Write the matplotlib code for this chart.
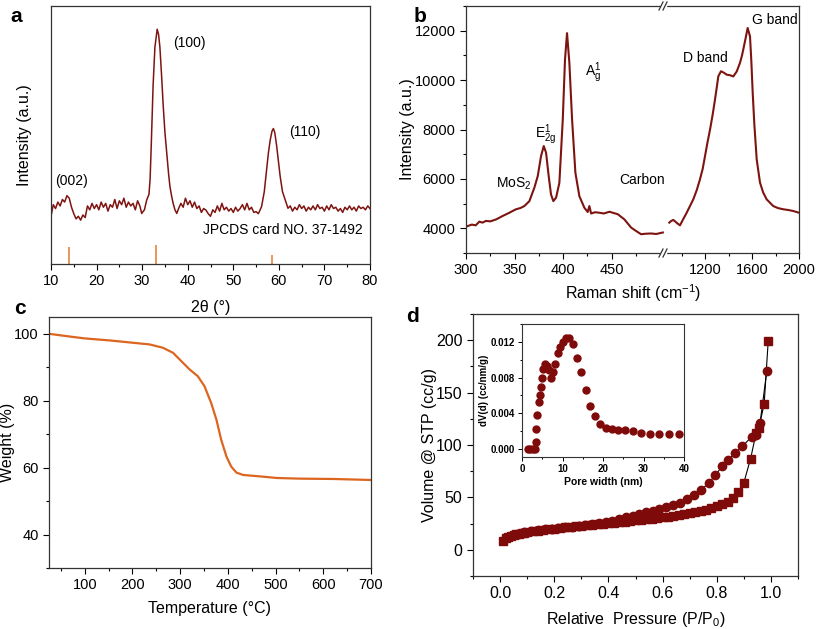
import matplotlib
matplotlib.use("Agg")
import matplotlib.pyplot as plt
from matplotlib.ticker import MultipleLocator, FixedLocator, FormatStrFormatter

plt.rcParams['font.family'] = ['Liberation Sans', 'DejaVu Sans']
plt.rcParams['mathtext.fontset'] = 'custom'
plt.rcParams['mathtext.rm'] = 'Liberation Sans'
plt.rcParams['mathtext.it'] = 'Liberation Sans'

# ---------------- data ----------------
# (a) XRD
xrd_2theta = [10.0, 10.5, 11.0, 11.5, 12.0, 12.5, 13.0, 13.5, 14.0, 14.5, 15.0, 15.5, 16.0, 16.5, 17.0, 17.5,
              18.0, 18.5, 19.0, 19.5, 20.0, 20.5, 21.0, 21.5, 22.0, 22.5, 23.0, 23.5, 24.0, 24.5, 25.0, 25.5,
              26.0, 26.5, 27.0, 27.5, 28.0, 28.5, 29.0, 29.5, 29.9, 30.5, 31.0, 31.5, 31.75, 32.0, 32.4, 32.8,
              33.3, 33.6, 33.9, 34.3, 34.6, 35.0, 35.4, 35.8, 36.1, 36.5, 36.8, 37.2, 37.6, 38.0, 38.5, 39.0,
              39.5, 40.0, 40.5, 41.0, 41.5, 42.0, 42.5, 43.0, 43.5, 44.0, 44.5, 45.0, 45.5, 46.0, 46.5, 47.0,
              47.5, 48.0, 48.5, 49.0, 49.5, 50.0, 50.5, 51.0, 51.5, 52.0, 52.5, 53.0, 53.5, 54.0, 54.5, 55.0,
              55.5, 56.2, 56.8, 57.3, 57.7, 58.1, 58.5, 58.8, 59.1, 59.5, 59.9, 60.3, 60.8, 61.4, 62.0, 62.5,
              63.0, 63.5, 64.0, 64.5, 65.0, 65.5, 66.0, 66.5, 67.0, 67.5, 68.0, 68.5, 69.0, 69.5, 70.0, 70.5,
              71.0, 71.5, 72.0, 72.5, 73.0, 73.5, 74.0, 74.5, 75.0, 75.5, 76.0, 76.5, 77.0, 77.5, 78.0, 78.5,
              79.0, 79.5, 80.0]
xrd_intensity = [18.5, 23.0, 21.5, 24.0, 22.5, 25.0, 24.0, 26.5, 25.5, 22.0, 19.5, 17.5, 18.5, 17.0, 19.0, 18.0,
                 22.5, 21.0, 23.5, 21.5, 23.0, 21.0, 24.0, 22.0, 23.5, 20.5, 23.0, 22.0, 25.0, 21.5, 24.5, 23.0,
                 25.5, 22.0, 24.0, 22.5, 23.5, 21.0, 24.5, 22.5, 19.6, 21.0, 24.8, 27.0, 33.0, 46.0, 69.0, 84.0,
                 91.0, 89.0, 84.0, 72.0, 62.0, 51.0, 43.0, 35.0, 30.0, 26.0, 23.5, 21.0, 19.6, 21.5, 23.5, 22.0,
                 25.5, 23.0, 24.5, 22.0, 24.0, 21.5, 22.5, 20.0, 21.5, 20.9, 19.5, 18.5, 21.0, 20.0, 22.5, 20.5,
                 23.5, 21.0, 22.0, 20.5, 21.5, 20.0, 22.0, 20.5, 21.5, 23.0, 21.0, 23.5, 21.0, 22.0, 20.0, 20.3,
                 19.5, 22.2, 28.0, 36.4, 43.0, 48.0, 51.5, 52.5, 51.0, 46.0, 40.0, 33.8, 28.0, 24.8, 21.6, 22.5,
                 20.5, 22.0, 21.0, 23.0, 21.5, 22.5, 20.5, 22.0, 21.0, 22.5, 21.0, 23.0, 21.5, 22.0, 20.5, 22.5,
                 21.0, 23.0, 21.5, 22.0, 20.5, 21.5, 20.0, 22.0, 21.0, 22.5, 21.0, 22.0, 20.5, 22.5, 21.5, 22.0,
                 21.0, 22.5, 21.5]
ref_2theta = [14.0, 33.0, 58.5]
ref_height = [6.6, 7.4, 3.5]

# (b) Raman
raman_low_x = [301.7, 306, 310, 313.7, 317, 320.6, 325, 331, 334, 337.8, 341, 344.7, 348, 351.5, 356, 360.1,
               365.3, 370.4, 373.9, 377.3, 380.1, 382.5, 385.2, 387.6, 390.0, 392.8, 396.2, 399.7, 402.0,
               404.1, 406.5, 409.3, 412.7, 416.8, 422.0, 425.4, 427.1, 428.9, 433, 437.4, 442, 447.8, 452,
               456.4, 463.2, 470.1, 475.3, 480.4, 485, 490.7, 496, 502.8]
raman_low_y = [4090, 4150, 4120, 4270, 4230, 4300, 4280, 4360, 4420, 4500, 4560, 4630, 4700, 4770, 4820, 4900,
               5100, 5640, 6110, 6920, 7330, 7060, 6110, 5370, 5100, 5240, 5840, 8400, 10830,
               11900, 10700, 8400, 6250, 5300, 4830, 4660, 4900, 4600, 4650, 4630, 4600, 4670, 4620,
               4570, 4360, 4030, 3890, 3760, 3780, 3790, 3770, 3830]
raman_high_x = [896, 910, 930, 950, 970, 987, 1010, 1044, 1070, 1100, 1130, 1157, 1180, 1200, 1220, 1243,
                1265, 1285, 1300, 1313, 1336, 1360, 1385, 1410, 1441, 1470, 1498, 1515, 1532, 1548, 1563,
                1583, 1594, 1606, 1620, 1640, 1668, 1695, 1725, 1781, 1820, 1866, 1910, 1951, 2000]
raman_high_y = [4230, 4290, 4340, 4260, 4180, 4120, 4330, 4630, 4880, 5170, 5550, 5980, 6400, 6920, 7450, 8000,
                8600, 9210, 9700, 10150, 10360, 10300, 10220, 10200, 10150, 10350, 10700, 11000, 11380,
                11750, 12110, 11770, 10800, 9480, 8200, 6790, 5850, 5450, 5170, 4900, 4820, 4770, 4740,
                4700, 4630]

# (c) TGA
tga_temp = [24, 61, 100, 152, 201, 236, 264, 285, 306, 320, 337, 351, 365, 376, 386, 397, 407, 418, 432,
            473, 502, 551, 621, 700]
tga_weight = [100.0, 99.3, 98.6, 98.0, 97.3, 96.8, 95.8, 94.3, 91.3, 89.3, 87.3, 84.3, 79.3, 74.3, 68.3,
              63.3, 60.3, 58.5, 57.8, 57.3, 56.9, 56.7, 56.6, 56.3]

# (d) N2 isotherm
ads_p = [0.009, 0.02, 0.03, 0.04, 0.05, 0.06, 0.07, 0.08, 0.09, 0.10, 0.12, 0.14, 0.16, 0.18, 0.20, 0.22,
         0.24, 0.26, 0.28, 0.30, 0.32, 0.34, 0.36, 0.38, 0.40, 0.42, 0.44, 0.46, 0.48, 0.50, 0.52, 0.54,
         0.56, 0.58, 0.60, 0.62, 0.64, 0.66, 0.68, 0.70, 0.72, 0.74, 0.76, 0.78, 0.80, 0.82, 0.84, 0.86,
         0.88, 0.90, 0.925, 0.945, 0.955, 0.975, 0.99]
ads_v = [8.6, 11.0, 12.3, 13.2, 14.0, 14.7, 15.3, 15.8, 16.3, 16.8, 17.6, 18.3, 19.0, 19.6, 20.2, 20.8,
         21.3, 21.9, 22.4, 22.9, 23.4, 23.9, 24.4, 24.9, 25.4, 25.9, 26.4, 26.9, 27.4, 28.0, 28.6, 29.2,
         29.8, 30.4, 31.0, 31.7, 32.4, 33.2, 34.0, 34.9, 35.9, 37.0, 38.3, 39.8, 41.5, 43.5, 46.0, 49.5,
         55.0, 64.0, 87.0, 111.0, 116.0, 139.0, 199.0]
des_p = [0.985, 0.96, 0.945, 0.93, 0.895, 0.868, 0.842, 0.821, 0.794, 0.77, 0.741, 0.717, 0.69, 0.664,
         0.638, 0.612, 0.587, 0.563, 0.538, 0.513, 0.489, 0.464, 0.44, 0.415, 0.39, 0.365, 0.34, 0.315,
         0.29, 0.265, 0.24, 0.215, 0.19, 0.165, 0.14, 0.115, 0.09, 0.065, 0.04, 0.02]
des_v = [171, 121, 110, 108, 99, 92, 86, 80, 71, 63.5, 57, 52, 48, 45, 43, 41, 39, 37.3, 35.7, 34, 32.5,
         31, 29.3, 27.5, 26.3, 25.3, 24.5, 23.5, 22.8, 22.2, 21.6, 21.0, 20.2, 19.4, 18.6, 17.6, 16.6,
         15.3, 13.5, 11.5]

# inset: pore size distribution
pore_w = [1.5, 2.0, 2.7, 3.3, 3.4, 3.5, 3.8, 4.1, 4.4, 4.8, 5.0, 5.3, 5.7, 6.1, 6.6, 7.1, 7.6, 8.2, 8.9,
          9.4, 10.1, 10.8, 11.6, 12.7, 13.5, 14.6, 15.7, 16.9, 18.0, 19.3, 20.7, 22.1, 23.8, 25.4, 27.5,
          29.5, 31.6, 33.8, 36.2, 38.8]
pore_dv = [0.0, 0.0, 0.0, 0.0, 0.0008, 0.0022, 0.0038, 0.0053, 0.0061, 0.0069, 0.0080, 0.0090, 0.0095,
           0.0093, 0.0088, 0.0080, 0.0086, 0.0095, 0.0107, 0.0114, 0.0120, 0.0124, 0.0124, 0.0118,
           0.0102, 0.0086, 0.0066, 0.0048, 0.0037, 0.0028, 0.0023, 0.0022, 0.0021, 0.0021, 0.0020,
           0.0018, 0.0017, 0.0017, 0.0017, 0.0017]

# ---------------- style ----------------
W, H = 817, 629
fig = plt.figure(figsize=(W / 100, H / 100), dpi=100)

def box(l, t, r, b):
    return [l / W, 1 - b / H, (r - l) / W, (b - t) / H]

dark_red = '#7e1410'
orange = '#dc6520'
tick_fs = 10.5
label_fs = 11.5

def style(ax, fs=tick_fs):
    ax.tick_params(which='both', direction='out', labelsize=fs, width=0.8)
    ax.tick_params(which='major', length=4)
    ax.tick_params(which='minor', length=2.5)
    for s in ax.spines.values():
        s.set_linewidth(0.9)
        s.set_color('#333333')

# ---- (a) XRD ----
axa = fig.add_axes(box(51, 6, 370, 264))
axa.plot(xrd_2theta, xrd_intensity, color=dark_red, lw=1.1)
axa.vlines(ref_2theta, 0, ref_height, color='#e8843c', lw=1.2)
axa.set_xlim(10, 80)
axa.set_ylim(0, 100)
axa.set_yticks([])
axa.xaxis.set_major_locator(MultipleLocator(10))
axa.xaxis.set_minor_locator(MultipleLocator(5))
style(axa)
axa.set_xlabel('2θ (°)', fontsize=label_fs)
axa.xaxis.set_label_coords(0.5, -0.14)
axa.set_ylabel('Intensity (a.u.)', fontsize=label_fs)
axa.yaxis.set_label_coords(-0.06, 0.5)
axa.text(10.8, 30.5, '(002)', fontsize=10)
axa.text(36.8, 84, '(100)', fontsize=10)
axa.text(62.3, 49.5, '(110)', fontsize=10)
axa.text(78.5, 11.5, 'JPCDS card NO. 37-1492', fontsize=10, ha='right')
fig.text(10 / W, 1 - 22 / H, 'a', fontsize=15, fontweight='bold')

# ---- (b) Raman with broken axis ----
brk = 664
axb1 = fig.add_axes(box(466, 6, brk, 253))
axb2 = fig.add_axes(box(brk, 6, 799, 253), sharey=axb1)
axb1.plot(raman_low_x, raman_low_y, color=dark_red, lw=1.5)
axb2.plot(raman_high_x, raman_high_y, color=dark_red, lw=1.5)
axb1.set_xlim(300, 504)
axb2.set_xlim(851, 2000)
axb1.set_ylim(3000, 13000)
axb1.xaxis.set_major_locator(FixedLocator([300, 350, 400, 450]))
axb1.xaxis.set_minor_locator(FixedLocator([325, 375, 425, 475]))
axb2.xaxis.set_major_locator(FixedLocator([1200, 1600, 2000]))
axb2.xaxis.set_minor_locator(FixedLocator([1000, 1400, 1800]))
axb1.yaxis.set_major_locator(MultipleLocator(2000))
axb1.yaxis.set_minor_locator(MultipleLocator(1000))
style(axb1)
style(axb2)
axb1.spines['right'].set_visible(False)
axb2.spines['left'].set_visible(False)
axb2.tick_params(axis='y', which='both', left=False, labelleft=False)
axb1.set_ylabel('Intensity (a.u.)', fontsize=label_fs)
axb1.yaxis.set_label_coords(-0.26, 0.5)
fig.text(633 / W, 1 - 293 / H, 'Raman shift (cm$^{-1}$)', fontsize=label_fs, ha='center', va='center')
# break marks
fig.add_artist(plt.Rectangle(((brk - 3) / W, 1 - 256 / H), 5 / W, 6 / H, color='white', zorder=5))
fig.add_artist(plt.Rectangle(((brk - 3) / W, 1 - 9 / H), 5 / W, 6 / H, color='white', zorder=5))
for yb in (6, 253):
    for dx in (-3, 1):
        fig.add_artist(plt.Line2D([(brk + dx - 2) / W, (brk + dx + 2) / W],
                                  [1 - (yb + 4) / H, 1 - (yb - 4) / H],
                                  color='#333333', lw=0.9, zorder=6))
axb1.text(331, 5650, 'MoS$_2$', fontsize=10)
axb1.text(371, 7650, 'E$^1_{2g}$', fontsize=10)
axb1.text(423, 10150, 'A$^1_g$', fontsize=10)
axb2.text(858, 5800, 'Carbon', fontsize=10, ha='right')
axb2.text(1010, 10750, 'D band', fontsize=10)
axb2.text(1600, 12450, 'G band', fontsize=10, va='center')
fig.text(414 / W, 1 - 22 / H, 'b', fontsize=15, fontweight='bold')

# ---- (c) TGA ----
axc = fig.add_axes(box(49, 317, 371, 568))
axc.plot(tga_temp, tga_weight, color=orange, lw=1.6)
axc.set_xlim(25, 700)
axc.set_ylim(30, 105)
axc.xaxis.set_major_locator(MultipleLocator(100))
axc.xaxis.set_minor_locator(MultipleLocator(50))
axc.yaxis.set_major_locator(FixedLocator([40, 60, 80, 100]))
axc.yaxis.set_minor_locator(FixedLocator([30, 50, 70, 90]))
style(axc)
axc.set_xlabel('Temperature (°C)', fontsize=label_fs)
axc.xaxis.set_label_coords(0.5, -0.131)
axc.set_ylabel('Weight (%)', fontsize=label_fs)
axc.yaxis.set_label_coords(-0.105, 0.5)
fig.text(14 / W, 1 - 314 / H, 'c', fontsize=15, fontweight='bold')

# ---- (d) isotherm ----
axd = fig.add_axes(box(473, 314, 798, 576))
axd.plot(ads_p, ads_v, color='black', lw=0.8, zorder=1)
axd.plot(des_p, des_v, color='black', lw=0.8, zorder=1)
axd.plot(ads_p, ads_v, ls='none', marker='s', ms=5.5, color='#7f0a0a', zorder=2)
axd.plot(des_p, des_v, ls='none', marker='o', ms=6, color='#7f0a0a', zorder=3)
axd.set_xlim(-0.1, 1.1)
axd.set_ylim(-25, 225)
axd.xaxis.set_major_locator(MultipleLocator(0.2))
axd.xaxis.set_minor_locator(MultipleLocator(0.1))
axd.yaxis.set_major_locator(MultipleLocator(50))
axd.yaxis.set_minor_locator(MultipleLocator(25))
style(axd, fs=11.5)
axd.xaxis.set_major_formatter(FormatStrFormatter('%.1f'))
axd.set_xlabel('Relative  Pressure (P/P$_0$)', fontsize=label_fs)
axd.xaxis.set_label_coords(0.5, -0.13)
axd.set_ylabel('Volume @ STP (cc/g)', fontsize=label_fs)
axd.yaxis.set_label_coords(-0.11, 0.5)
fig.text(406 / W, 1 - 322 / H, 'd', fontsize=15, fontweight='bold')

# inset
axi = fig.add_axes(box(522, 324, 684, 457))
axi.plot(pore_w, pore_dv, ls='none', marker='o', ms=5, color='#7f0a0a')
axi.set_xlim(0, 40)
axi.set_ylim(-0.0009, 0.0140)
axi.xaxis.set_major_locator(MultipleLocator(10))
axi.xaxis.set_minor_locator(MultipleLocator(5))
axi.yaxis.set_major_locator(MultipleLocator(0.004))
axi.yaxis.set_minor_locator(MultipleLocator(0.002))
axi.yaxis.set_major_formatter(FormatStrFormatter('%.3f'))
axi.tick_params(which='both', direction='out', labelsize=7, width=0.7, pad=2)
axi.tick_params(which='major', length=3)
axi.tick_params(which='minor', length=1.5)
for lab in axi.get_xticklabels() + axi.get_yticklabels():
    lab.set_fontweight('bold')
for s in axi.spines.values():
    s.set_linewidth(0.8)
    s.set_color('#333333')
axi.set_xlabel('Pore width (nm)', fontsize=7.5, fontweight='bold', labelpad=2)
axi.set_ylabel('dV(d) (cc/nm/g)', fontsize=7, fontweight='bold', labelpad=1)

fig.savefig('out.png', dpi=100)
